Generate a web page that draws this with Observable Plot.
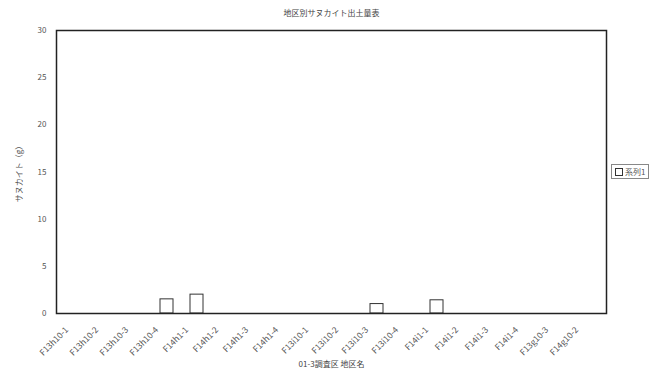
<!DOCTYPE html>
<html>
<head>
<meta charset="utf-8">
<script src="https://cdn.jsdelivr.net/npm/d3@7"></script>
<script src="https://cdn.jsdelivr.net/npm/@observablehq/plot@0.6"></script>
<style>
  html, body { margin: 0; padding: 0; background: #fff; }
  #wrap { position: relative; width: 658px; height: 376px; font-family: "Noto Sans CJK JP", "DejaVu Sans", sans-serif; }
  #legend { position: absolute; left: 611px; top: 164px; border: 1px solid #888; padding: 0 3px; font-size: 8px; color: #555; line-height: 13px; white-space: nowrap; background: #fff; }
  #legend .sw { display: inline-block; width: 6px; height: 6px; border: 1px solid #333; vertical-align: -1px; margin-right: 2px; }
</style>
</head>
<body>
<div id="wrap"><div id="legend"><span class="sw"></span>系列1</div></div>
<script>
const title = "地区別サヌカイト出土量表";
const xLabel = "01-3調査区 地区名";
const yLabel = "サヌカイト（g）";
const seriesName = "系列1";
const categories = ["F13h10-1","F13h10-2","F13h10-3","F13h10-4","F14h1-1","F14h1-2","F14h1-3","F14h1-4","F13i10-1","F13i10-2","F13i10-3","F13i10-4","F14i1-1","F14i1-2","F14i1-3","F14i1-4","F13g10-3","F14g10-2"];
const values = [0,0,0,1.5,2.0,0,0,0,0,0,1.0,0,1.4,0,0,0,0,0];
const yTicks = [0,5,10,15,20,25,30];

const data = categories.map((c, i) => ({cat: c, v: values[i]}));

const chart = Plot.plot({
  width: 658,
  height: 376,
  marginLeft: 56,
  marginRight: 52,
  marginTop: 30,
  marginBottom: 63,
  style: {fontFamily: '"Noto Sans CJK JP", "DejaVu Sans", sans-serif', fontSize: "8px", color: "#555", background: "#fff"},
  x: {domain: categories, paddingInner: 0.575, paddingOuter: 0.2875, align: 0.5},
  y: {domain: [0, 30]},
  marks: [
    Plot.barY(data.filter(d => d.v > 0), {x: "cat", y: "v", fill: "white", stroke: "#333", strokeWidth: 1}),
    Plot.frame({stroke: "#222", strokeWidth: 1.5}),
    Plot.axisY({ticks: yTicks, tickSize: 0, tickPadding: 10, label: yLabel, labelAnchor: "center", labelArrow: "none", labelOffset: 40, fill: "#555"}),
    Plot.axisX({tickSize: 0, tickPadding: 15, dx: -10, tickRotate: -45, fontSize: 8.5, label: null, fill: "#555"}),
    Plot.text([xLabel], {frameAnchor: "bottom", dy: 53, fontSize: 8, fill: "#444"}),
    Plot.text([title], {frameAnchor: "top", dy: -20, fontSize: 8, fill: "#444"})
  ]
});
document.getElementById("wrap").prepend(chart);
chart.style.position = "absolute";
chart.style.left = "0";
chart.style.top = "0";
</script>
</body>
</html>
